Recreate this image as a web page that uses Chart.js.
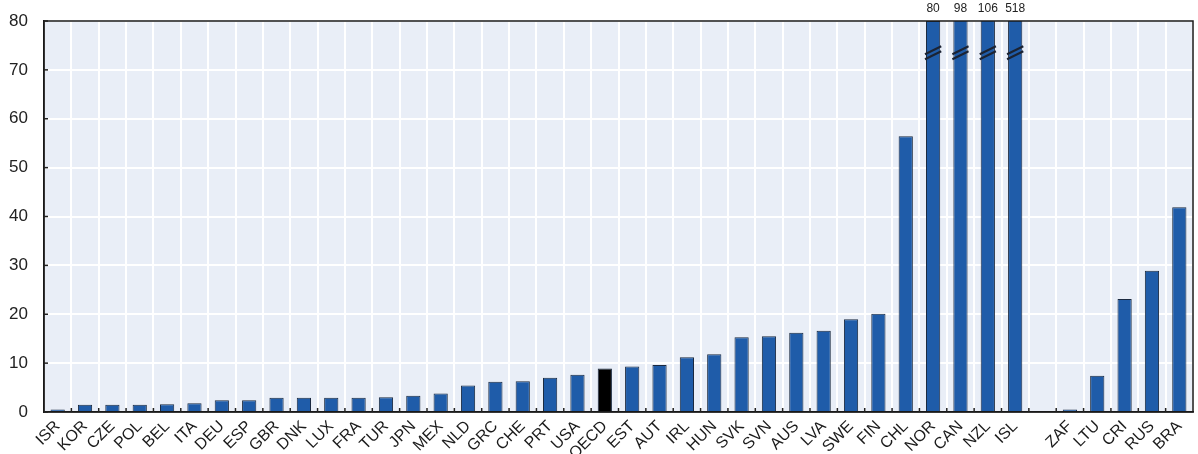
<!DOCTYPE html>
<html>
<head>
<meta charset="utf-8">
<script src="https://cdn.jsdelivr.net/npm/chart.js@4.4.1/dist/chart.umd.min.js"></script>
<style>
  html, body { margin: 0; padding: 0; background: #fff; }
  #wrap { width: 1198px; height: 454px; position: relative; }
</style>
</head>
<body>
<div id="wrap"><canvas id="rateChart"></canvas></div>
<script>
// countries, with an empty slot separating OECD members from partners
const countries = ['ISR', 'KOR', 'CZE', 'POL', 'BEL', 'ITA', 'DEU', 'ESP', 'GBR', 'DNK',
    'LUX', 'FRA', 'TUR', 'JPN', 'MEX', 'NLD', 'GRC', 'CHE', 'PRT', 'USA',
    'OECD', 'EST', 'AUT', 'IRL', 'HUN', 'SVK', 'SVN', 'AUS', 'LVA', 'SWE',
    'FIN', 'CHL', 'NOR', 'CAN', 'NZL', 'ISL', '', 'ZAF', 'LTU', 'CRI', 'RUS', 'BRA'];

const values = [0.5, 1.5, 1.5, 1.5, 1.6, 1.8, 2.4, 2.4, 2.9, 2.9,
    2.9, 2.9, 3.0, 3.3, 3.8, 5.4, 6.2, 6.3, 7.0, 7.6,
    8.9, 9.3, 9.6, 11.2, 11.8, 15.3, 15.5, 16.2, 16.6, 19.0,
    20.1, 56.4, 80, 98, 106, 518, null, 0.5, 7.4, 23.1, 28.9, 41.9];

const yTicks = [0, 10, 20, 30, 40, 50, 60, 70, 80];
const yMax = 80;

const barBlue = '#1f5ca9';
const barColors = countries.map(c => c === 'OECD' ? '#000000' : barBlue);

// plot background, frame and the short inward ticks
const frame = {
    id: 'frame',
    beforeDraw(chart) {
        const { ctx, chartArea: a } = chart;
        ctx.save();
        ctx.fillStyle = '#e9eef7';
        ctx.fillRect(a.left, a.top, a.right - a.left, a.bottom - a.top);
        ctx.restore();
    },
    afterDraw(chart) {
        const { ctx, chartArea: a, scales } = chart;
        ctx.save();
        ctx.strokeStyle = '#1a1a1a';
        ctx.lineWidth = 1.5;
        ctx.strokeRect(a.left, a.top, a.right - a.left, a.bottom - a.top);
        ctx.strokeStyle = '#222';
        // x ticks at category boundaries
        const x = scales.x;
        const step = x.getPixelForValue(1) - x.getPixelForValue(0);
        for (let i = 0; i <= countries.length; i++) {
            const px = x.getPixelForValue(i) - step / 2;
            if (px <= a.left + 1 || px >= a.right - 1) continue;
            ctx.beginPath();
            ctx.moveTo(px, a.bottom);
            ctx.lineTo(px, a.bottom - 4);
            ctx.stroke();
        }
        // y ticks
        yTicks.forEach(v => {
            const py = scales.y.getPixelForValue(v);
            ctx.beginPath();
            ctx.moveTo(a.left, py);
            ctx.lineTo(a.left + 4, py);
            ctx.stroke();
        });
        ctx.restore();
    }
};

// bars beyond the axis: break marks and the true value above the frame
const overflow = {
    id: 'overflow',
    afterDatasetsDraw(chart) {
        const { ctx, chartArea: a, scales } = chart;
        const meta = chart.getDatasetMeta(0);
        ctx.save();
        meta.data.forEach((bar, i) => {
            const v = values[i];
            if (v === null || v < yMax) return;
            const half = bar.width / 2;
            const yb = scales.y.getPixelForValue(73.5);
            ctx.strokeStyle = '#1b2333';
            ctx.lineWidth = 2;
            [-2.5, 2.5].forEach(off => {
                ctx.beginPath();
                ctx.moveTo(bar.x - half - 1, yb + off + 4);
                ctx.lineTo(bar.x + half + 1, yb + off - 4);
                ctx.stroke();
            });
            ctx.fillStyle = '#222';
            ctx.font = '12px "Liberation Sans", Arial, sans-serif';
            ctx.textAlign = 'center';
            ctx.textBaseline = 'bottom';
            ctx.fillText(String(v), bar.x, a.top - 6);
        });
        ctx.restore();
    }
};

new Chart(document.getElementById('rateChart'), {
    type: 'bar',
    data: {
        labels: countries,
        datasets: [{
            data: values,
            backgroundColor: barColors,
            borderColor: '#1b2a40',
            borderWidth: 1,
            barPercentage: 0.52,
            categoryPercentage: 1.0
        }]
    },
    options: {
        responsive: true,
        maintainAspectRatio: false,
        animation: false,
        layout: { padding: { top: 21, right: 5, left: 0, bottom: 0 } },
        plugins: {
            legend: { display: false },
            tooltip: { enabled: false }
        },
        scales: {
            x: {
                offset: true,
                grid: { offset: true, color: '#ffffff', lineWidth: 2, drawTicks: false },
                border: { display: true, color: '#1a1a1a', width: 1.5 },
                ticks: {
                    autoSkip: false,
                    maxRotation: 45,
                    minRotation: 45,
                    padding: 5,
                    color: '#1a1a1a',
                    font: { family: '"Liberation Sans", Arial, sans-serif', size: 16 }
                },
                afterFit(scale) { scale.height = 42; }
            },
            y: {
                min: 0,
                max: yMax,
                afterBuildTicks(scale) { scale.ticks = yTicks.map(v => ({ value: v })); },
                grid: { color: '#ffffff', lineWidth: 2, drawTicks: false },
                border: { display: true, color: '#1a1a1a', width: 1.5 },
                ticks: {
                    padding: 16,
                    color: '#222',
                    font: { family: '"Liberation Sans", Arial, sans-serif', size: 17 }
                },
                afterFit(scale) {
                    scale.width = 44;
                    scale.paddingTop = 0;
                    scale.paddingBottom = 0;
                }
            }
        }
    },
    plugins: [frame, overflow]
});
</script>
</body>
</html>
